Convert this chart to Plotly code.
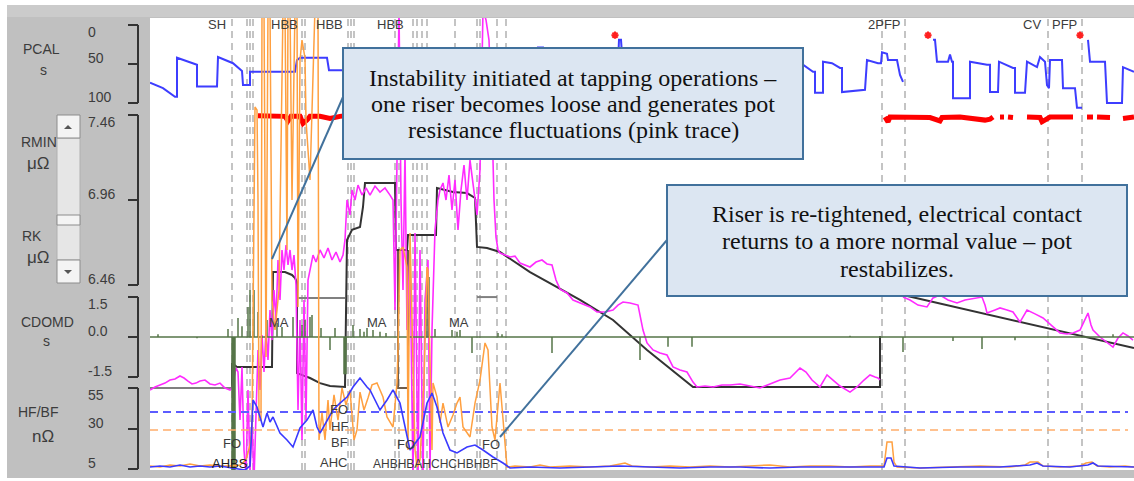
import plotly.graph_objects as go

W, H = 1134, 481

# ---------------- data (time axis t in minutes from window start) ----------------
# PCAL [s] (blue step trace, reversed axis)
pcal_t = [0, 13, 25, 27, 27, 45, 47, 47, 67, 68, 83, 92, 93, 100, 100, 145, 147, 150, 177, 179, 193,
          230, 232, 270, 272, 320, 330, 388, 388, 393, 394, 450, 452, 467, 469, 471, 472, 530, 532, 570, 572, 610, 640,
          653, 663, 665, 665, 673, 673, 682, 690, 692, 692, 715, 717, 728, 731, 732, 737, 738, 747, 750, 753,
          None,
          783, 785, 787, 798, 800, 802, 803, 803, 820, 820, 837, 840, 840, 848, 849, 863, 865, 865, 875, 877,
          887, 890, 895, 897, 899, 900, 912, 913, 925, 927, 932,
          None,
          938, 940, 955, 957, 972, 973, 984]
pcal_v = [74, 81, 92, 92, 42, 51, 51, 79, 79, 41, 49, 59, 77, 77, 60, 60, 45, 42, 42, 58, 58,
          58, 77, 77, 45, 47, 45, 45, 29, 29, 58, 58, 81, 81, 19, 19, 38, 38, 77, 77, 45, 45, 47,
          51, 60, 60, 87, 87, 47, 49, 55, 55, 86, 83, 45, 49, 49, 35, 37, 45, 45, 64, 73,
          None,
          19, 19, 47, 47, 38, 47, 47, 94, 94, 47, 51, 51, 86, 86, 47, 55, 55, 87, 87, 47,
          54, 41, 47, 77, 81, 45, 45, 81, 81, 106, 106,
          None,
          19, 47, 47, 100, 100, 54, 60]
pcal_alarm_t = [465, 778, 930]
pcal_alarm_v = [13, 13, 13]

# RMIN [uOhm] (red)
rmin_t = [108, 115, 125, 135, 138, 141, 150, 153, 157, 160, 170, 180, 190, 195, 300, 550, None,
          735, 737, 738, 740, 760, 780, 790, 792, 810, 830, 835, 840, 843, None,
          850, 854, None, 858, 863, None,
          877, 890, 892, 895, 900, 923, None,
          937, 943, None, 947, 960, None, 973, 984]
rmin_v = [7.455, 7.455, 7.455, 7.452, 7.425, 7.452, 7.452, 7.41, 7.43, 7.452, 7.452, 7.44, 7.452, 7.455, 7.455, 7.455, None,
          7.448, 7.42, 7.42, 7.448, 7.448, 7.445, 7.425, 7.445, 7.448, 7.432, 7.43, 7.435, 7.448, None,
          7.448, 7.448, None, 7.448, 7.445, None,
          7.448, 7.445, 7.42, 7.43, 7.448, 7.448, None,
          7.448, 7.448, None, 7.448, 7.445, None, 7.44, 7.448]

# RK measured pot resistance [uOhm] (pink)
rk_t = [0, 5, 10, 15, 20, 25, 30, 34, 38, 42, 46, 50, 55, 60, 65, 70, 75, 80, 82,
        84, 86, 88, 90, 92, 94, 96, 98, 100, 102, 104, 106, 108, 110, 112, 114, 116, 118, 120, 122,
        124, 126, 128, 130, 132, 134, 136, 138, 140, 142, 144, 146, 148, 150, 152, 154, 156, 158, 160,
        163, 166, 170, 174, 178, 182, 186, 190, 193, 195, 197, 200, 202, 205, 208, 212, 216, 220, 225,
        230, 235, 240, 243, 245, 247, 249, 251, 253, 255, 257, 260, 263, 265, 268, 270, 273, 275, 278,
        280, 282, 285, 288, 290, 293, 296, 299, 302, 305, 308, 311, 314, 317, 320, 324, 327, 330, 333,
        336, 339, 342, 344, 346, 348,
        350, 355, 360, 365, 370, 380, 386, 392, 397, 402, 406, 410, 417, 423, 430, 440, 447, 455, 463,
        468, 473, 480, 488, 493, 497, 503, 510, 517, 523, 530, 537, 543, 547, 555, 563, 572, 580, 590,
        600, 610, 620, 630, 640, 650, 656, 662, 670, 677, 683, 690, 700, 707, 714, 720, 725, 728, 730,
        None,
        753, 760, 768, 777, 783, 790, 798, 807, 815, 825, 832, 835, 837, 845, 850, 857, 863, 870, 877,
        885, 893, 902, 910, 917, 923, 930, 935, 938, 941, 943, 950, 956, 960, 963, 968, 973, 978, 983]
rk_v = [5.842, 5.86, 5.872, 5.883, 5.901, 5.907, 5.925, 5.913, 5.895, 5.878, 5.883, 5.895, 5.901, 5.878, 5.872, 5.883, 5.854, 5.842, 5.854,
        5.913, 5.972, 5.948, 5.666, 5.978, 5.489, 5.34, 5.842, 5.372, 5.666, 5.313, 5.783, 6.078, 5.842, 6.166, 5.948, 6.195, 6.019, 6.313, 6.136,
        6.431, 6.254, 6.607, 6.372, 6.666, 6.548, 6.695, 6.578, 6.666, 6.548, 6.636, 6.46, 5.725, 6.254, 5.548, 6.372, 5.666, 6.489, 6.548,
        6.636, 6.595, 6.666, 6.619, 6.678, 6.607, 6.654, 6.595, 6.636, 6.725, 6.96, 6.872, 7.019, 6.96, 7.048, 6.989, 7.031, 6.989, 7.042,
        7.007, 7.031, 6.989, 6.96, 6.313, 7.254, 8.078, 6.96, 6.431, 7.254, 6.195, 6.666, 5.313, 6.766, 5.313, 6.666, 5.313, 6.372, 6.607,
        5.372, 6.195, 6.784, 6.96, 7.019, 7.06, 6.96, 7.107, 6.901, 7.078, 6.784, 7.019, 7.166, 6.96, 7.195, 6.989, 6.872, 7.136, 8.078,
        8.019, 7.901, 7.431, 6.96, 6.742, 6.666,
        6.648, 6.636, 6.625, 6.63, 6.589, 6.566, 6.595, 6.607, 6.584, 6.578, 6.489, 6.436, 6.413, 6.372, 6.354, 6.331, 6.301, 6.301, 6.313,
        6.342, 6.36, 6.354, 6.342, 6.195, 6.119, 6.078, 6.06, 6.048, 5.978, 5.96, 5.948, 5.889, 5.86, 5.866, 5.86, 5.872, 5.872, 5.878,
        5.866, 5.854, 5.878, 5.901, 5.913, 5.972, 5.948, 5.901, 5.86, 5.931, 5.901, 5.866, 5.83, 5.86, 5.901, 5.931, 5.919, 5.913, 5.901,
        None,
        6.389, 6.372, 6.342, 6.331, 6.384, 6.401, 6.372, 6.354, 6.372, 6.384, 6.389, 6.342, 6.295, 6.313, 6.325, 6.313, 6.301, 6.242, 6.313,
        6.29, 6.266, 6.219, 6.178, 6.172, 6.178, 6.195, 6.254, 6.295, 6.225, 6.195, 6.154, 6.125, 6.107, 6.095, 6.148, 6.178, 6.16, 6.136]

# RK model / regulation line (black)
rkm_t = [82, 82, 87, 122, 123, 135, 142, 145, 147, 147, 160, 170, 180, 195, 197, 202, 210, 213, 215, 245,
         246, 257, 258, 286, 287, 303, 317, 325, 327, 337, 350, 380, 430, 463, 497, 543, 730, 730, None, 753, 984]
rkm_v = [5.854, 6.001, 5.978, 5.978, 6.536, 6.536, 6.519, 6.501, 6.478, 5.942, 5.913, 5.883, 5.866, 5.86, 6.725, 6.784, 6.801, 6.919, 7.06, 7.06,
         6.666, 6.666, 6.754, 6.754, 7.031, 7.007, 7.001, 6.972, 6.684, 6.678, 6.654, 6.536, 6.372, 6.254, 6.078, 5.86, 5.86, 6.16, None, 6.401, 6.089]
# RK target segments (grey)
rkt_t = [0, 82, None, 147, 195, None, 327, 347]
rkt_v = [5.854, 5.854, None, 6.384, 6.384, None, 6.389, 6.389]
# anode-effect style bracket (brown)
rkb_t = [248, 248, 258, 258]
rkb_v = [6.666, 5.854, 5.854, 6.666]

# CDOMD [s] impulses (green)
cd_t = [8, 47, 78, 82, 83, 84, 85, 88, 92, 98, 100, 104, 108, 117, 127, 132, 143, 152, 155, 160,
        162, 171, 180, 185, 194, 195, 196, 203, 210, 214, 217, 223, 230, 236, 277, 279, 285, 302, 307, 310,
        322, 348, 352, 402, 490, 518, 542, 700, 753, 803, 832, 865, 963]
cd_v = [0.1, -0.05, 0.3, -5.3, -5.3, -5.3, -5.3, 0.71, 0.4, 1.12, 1.76, 1.76, 0.94, 0.64, 0.52, 0.37, 0.75, 0.45, 0.64, 0.75,
        0.82, 0.34, -0.49, 0.34, -1.4, -1.4, -1.4, 0.45, 0.3, 0.2, 0.34, 0.26, 0.2, 0.15, 2.25, 2.25, 0.3, 0.26, 0.2, 0.26,
        -0.6, 0.15, 0.1, -0.6, -0.86, -0.37, -0.37, 0.05, -0.56, -0.15, -0.45, -0.12, 0.1]

# HF [nOhm] (orange) and BF [nOhm] (blue)
hf_t = [0, 10, 20, 30, 40, 50, 60, 70, 80, 90,
        96, 100, 102, 103, 105, 107, 108, 109, 111, 112,
        114, 116, 118, 120, 122, 125, 129, 133, 135, 137,
        138, 140, 142, 145, 147, 148, 150, 152, 155, 156,
        160, 165, 168, 169, 172, 175, 178, 180, 184, 188,
        192, 196, 200, 204, 207, 210, 214, 218, 222, 227,
        233, 237, 243, 247, 248, 250, 253, 257, 258, 260,
        263, 265, 267, 270, 274, 277, 278, 282, 283, 287,
        290, 293, 298, 303, 307, 310, 313, 320, 325, 330,
        335, 338, 342, 345, 350, 353, 357, 365, 380, 390,
        400, 420, 440, 460, 475, 482, 500, 520, 540, 560,
        580, 600, 620, 640, 660, 680, 700, 720, 734, 736,
        737, 742, 744, 747, 770, 800, 830, 860, 875, 880,
        888, 893, 910, 930, 936, 942, 947, 960, 975, 984]
hf_v = [6.85, 6.2, 7.5, 6.85, 8.1, 6.85, 7.5, 6.85, 6.85, 7.5,
        10.6, 19.8, 30.9, 109.3, 228.5, 226.6, 171, 35.0, 35.2, 290,
        290, 74.1, 290, 290, 109.3, 90.8, 115.5, 290, 290, 140.2,
        290, 290, 171, 290, 290, 105, 257.5, 269.8, 258.7, 220.4,
        183.4, 290, 290, 22.9, 39.6, 22.9, 47.6, 29.1, 50.7, 35.2,
        55, 44.5, 53.8, 22.9, 29.1, 52.5, 41.4, 48.8, 56.9, 58.1,
        49.4, 37.1, 30.9, 58.1, 78.5, 140.2, 142, 129.7, 16.7, 150.7,
        78.5, 16.7, 6.2, 10.6, 59.9, 129.7, 127.8, 16.7, 58.1, 49.4,
        33.4, 45.7, 30.9, 38.3, 45.7, 49.4, 30.9, 24.75, 45.7, 59.9,
        82.8, 78.5, 30.9, 22.9, 58.1, 37.1, 6.2, 6.85, 6.2, 7.5,
        6.2, 6.85, 6.2, 6.85, 8.7, 6.85, 6.2, 6.85, 6.2, 6.85,
        6.2, 6.85, 7.5, 6.2, 6.85, 6.85, 6.2, 6.85, 6.85, 16.7,
        21.7, 21.7, 9.3, 6.2, 5.6, 6.2, 6.85, 6.2, 7.5, 9.3,
        9.3, 6.85, 6.2, 6.85, 8.7, 9.3, 6.85, 6.2, 6.85, 6.2]
bf_t = [0, 10, 20, 30, 40, 50, 60, 70, 82, 95,
        100, 103, 107, 113, 117, 120, 123, 130, 137, 143,
        150, 157, 163, 167, 170, 177, 183, 190, 197, 203,
        210, 217, 220, 230, 237, 243, 250, 260, 270, 277,
        282, 287, 293, 300, 307, 317, 325, 333, 343, 353,
        360, 380, 410, 440, 470, 500, 530, 560, 590, 620,
        650, 680, 710, 734, 737, 741, 744, 770, 810, 850,
        880, 887, 893, 920, 938, 943, 948, 984]
bf_v = [6.2, 6.85, 6.2, 7.5, 6.2, 6.85, 6.2, 6.85, 5.6, 4.4,
        6.85, 47.6, 43.3, 30.9, 39.6, 34, 37.1, 27.2, 22.9, 18.6,
        30.3, 35.2, 41.4, 30.9, 27.2, 35.2, 41.4, 45.7, 49.4, 55.6,
        61.2, 55.6, 53.8, 41.4, 47.6, 53.8, 45.7, 16.7, 24.75, 45.7,
        51.9, 43.3, 27.2, 16.7, 14.9, 18.6, 19.8, 16.7, 12.4, 8.7,
        5.6, 6.2, 5.6, 6.2, 6.85, 6.2, 5.6, 6.2, 6.2, 5.6,
        6.2, 6.2, 6.2, 6.2, 11.8, 11.8, 6.85, 5.6, 6.2, 6.2,
        7.5, 8.7, 6.85, 6.2, 7.5, 8.7, 6.85, 6.2]
bf_limit = 40.2
hf_limit = 29.1
limit_t = [0, 978]

# events
event_t = [82, 97, 100, 103, 152, 155, 198, 201, 204, 245, 249, 263, 267, 272, 277,
           305, 327, 330, 347, 356, 732, 755, 898, 932]
event_label_t = [67, 134, 179, 240, 734, 882, 914]
event_labels = ["SH", "HBB", "HBB", "HBB", "2PFP", "CV", "PFP"]
ma_t = [129, 227, 309]

# axis ticks
pcal_ticks = [0, 50, 100]
rk_ticks = [7.46, 6.96, 6.46]
cd_ticks = [1.5, 0.0, -1.5]
hf_ticks = [55, 30, 5]

for a, b in [(pcal_t, pcal_v), (rmin_t, rmin_v), (rk_t, rk_v), (rkm_t, rkm_v), (cd_t, cd_v),
             (hf_t, hf_v), (bf_t, bf_v)]:
    assert len(a) == len(b), (len(a), len(b))

# ---------------- helpers for decoration positions ----------------
def X(p):
    return p / W

def Y(p):
    return 1 - p / H

SANS = "Liberation Sans, Arial, sans-serif"
SERIF = "Liberation Serif, Times New Roman, serif"

fig = go.Figure()

# dashed limit lines
fig.add_trace(go.Scatter(x=limit_t, y=[bf_limit, bf_limit], yaxis="y4", mode="lines",
                         line=dict(color="#5c5cff", width=2, dash="8px,5px")))
fig.add_trace(go.Scatter(x=limit_t, y=[hf_limit, hf_limit], yaxis="y4", mode="lines",
                         line=dict(color="#ffad6b", width=1.6, dash="8px,5px")))

# CDOMD impulses
cx, cy = [0], [0]
for t, v in zip(cd_t, cd_v):
    cx += [t, t, t]
    cy += [0, v, 0]
cx.append(984)
cy.append(0)
fig.add_trace(go.Scatter(x=cx, y=cy, yaxis="y3", mode="lines",
                         line=dict(color="#557548", width=1.5)))

# RK target, bracket, model
fig.add_trace(go.Scatter(x=rkt_t, y=rkt_v, yaxis="y2", mode="lines",
                         line=dict(color="#808080", width=2)))
fig.add_trace(go.Scatter(x=rkb_t, y=rkb_v, yaxis="y2", mode="lines",
                         line=dict(color="#6e5c4c", width=2)))
fig.add_trace(go.Scatter(x=rkm_t, y=rkm_v, yaxis="y2", mode="lines",
                         line=dict(color="#333333", width=2)))

# HF orange
fig.add_trace(go.Scatter(x=hf_t, y=hf_v, yaxis="y4", mode="lines",
                         line=dict(color="#ffa040", width=1.5)))
# RK pink
fig.add_trace(go.Scatter(x=rk_t, y=rk_v, yaxis="y2", mode="lines",
                         line=dict(color="#ff2bff", width=1.6)))
# BF blue
fig.add_trace(go.Scatter(x=bf_t, y=bf_v, yaxis="y4", mode="lines",
                         line=dict(color="#3a3aff", width=1.6)))
# PCAL blue
fig.add_trace(go.Scatter(x=pcal_t, y=pcal_v, yaxis="y", mode="lines",
                         line=dict(color="#3d3dff", width=2)))
fig.add_trace(go.Scatter(x=pcal_alarm_t, y=pcal_alarm_v, yaxis="y", mode="markers",
                         marker=dict(symbol="asterisk-open", size=6, color="#ff2020",
                                     line=dict(color="#ff2020", width=2))))
# RMIN red
fig.add_trace(go.Scatter(x=rmin_t, y=rmin_v, yaxis="y2", mode="lines",
                         line=dict(color="#ff0000", width=5)))

# ---------------- axes ----------------
xdom = [X(150), 1]
ydom = [Y(470), Y(18)]
common = dict(showgrid=False, zeroline=False, showline=False, ticks="outside", ticklen=10,
              tickwidth=2, tickcolor="#333333", showticklabels=False, fixedrange=True,
              anchor="free", position=X(138), side="left", automargin=False)
layout_axes = dict(
    xaxis=dict(domain=xdom, range=[0, 984], visible=False, fixedrange=True),
    yaxis=dict(domain=ydom, range=[570.5, -8.97], tickvals=pcal_ticks, **common),
    yaxis2=dict(overlaying="y", range=[5.3718, 8.0306], tickvals=rk_ticks, **common),
    yaxis3=dict(overlaying="y", range=[-4.987, 11.96], tickvals=cd_ticks, **common),
    yaxis4=dict(overlaying="y", range=[4.38, 283.4], tickvals=hf_ticks, **common),
)

shapes = []
# background panel and plot area (lower layer)
shapes.append(dict(type="rect", xref="paper", yref="paper", x0=X(7), x1=1, y0=Y(478), y1=Y(5),
                   fillcolor="#c0c0c0", line=dict(width=0), layer="below"))
shapes.append(dict(type="rect", xref="paper", yref="paper", x0=X(7), x1=1, y0=Y(17), y1=Y(5),
                   fillcolor="#cbcbcb", line=dict(width=0), layer="below"))
shapes.append(dict(type="rect", xref="paper", yref="paper", x0=X(150), x1=1, y0=Y(470), y1=Y(18),
                   fillcolor="#ffffff", line=dict(width=0), layer="below"))
# event lines
for t in event_t:
    shapes.append(dict(type="line", xref="x", yref="paper", x0=t, x1=t, y0=Y(470), y1=Y(18),
                       line=dict(color="#c4c4c4", width=2, dash="7px,5px"), layer="below"))
# axis brackets
for yref, ticks in [("y", pcal_ticks), ("y2", rk_ticks), ("y3", cd_ticks), ("y4", hf_ticks)]:
    shapes.append(dict(type="line", xref="paper", yref=yref, x0=X(138), x1=X(138),
                       y0=min(ticks), y1=max(ticks), line=dict(color="#333333", width=2)))
# scroll bar widget
def rect(x0, y0, x1, y1, fill, line="#8c8c8c"):
    return dict(type="rect", xref="paper", yref="paper", x0=X(x0), x1=X(x1), y0=Y(y1), y1=Y(y0),
                fillcolor=fill, line=dict(color=line, width=1))
shapes.append(rect(57, 138, 80, 260, "#e6e6e6", "#b0b0b0"))
shapes.append(rect(57, 215, 80, 225, "#f4f4f4"))
shapes.append(rect(57, 115, 80, 138, "#f4f4f4"))
shapes.append(rect(57, 260, 80, 283, "#f4f4f4"))
shapes.append(dict(type="path", xref="paper", yref="paper", fillcolor="#555555", line=dict(width=0),
                   path=f"M {X(64)},{Y(129)} L {X(72)},{Y(129)} L {X(68)},{Y(125)} Z"))
shapes.append(dict(type="path", xref="paper", yref="paper", fillcolor="#555555", line=dict(width=0),
                   path=f"M {X(64)},{Y(270)} L {X(72)},{Y(270)} L {X(68)},{Y(274)} Z"))
# callout boxes and pointers
BOX_LINE = "#41719c"
shapes.append(dict(type="line", xref="paper", yref="paper", x0=X(343), y0=Y(97), x1=X(272), y1=Y(259),
                   line=dict(color=BOX_LINE, width=2)))
shapes.append(dict(type="line", xref="paper", yref="paper", x0=X(667), y0=Y(240), x1=X(500), y1=Y(437),
                   line=dict(color=BOX_LINE, width=2)))
shapes.append(dict(type="rect", xref="paper", yref="paper", x0=X(343), x1=X(803), y0=Y(159), y1=Y(48),
                   fillcolor="#dce6f2", line=dict(color=BOX_LINE, width=2)))
shapes.append(dict(type="rect", xref="paper", yref="paper", x0=X(667), x1=X(1127), y0=Y(296), y1=Y(185),
                   fillcolor="#dce6f2", line=dict(color=BOX_LINE, width=2)))

ann = []
def txt(text, x, y, size=13, color="#3c3c3c", xref="paper", yref="paper", xanchor="center",
        yanchor="middle", family=SANS, yshift=0):
    ann.append(dict(text=text, x=x, y=y, xref=xref, yref=yref, xanchor=xanchor, yanchor=yanchor,
                    showarrow=False, yshift=yshift, font=dict(family=family, size=size, color=color)))

# tick labels (positioned on each axis scale)
for yref, ticks, labels in [("y", pcal_ticks, ["0", "50", "100"]),
                            ("y2", rk_ticks, ["7.46", "6.96", "6.46"]),
                            ("y3", cd_ticks, ["1.5", "0.0", "-1.5"]),
                            ("y4", hf_ticks, ["55", "30", "5"])]:
    top = max(ticks) if yref != "y" else min(ticks)
    for v, lab in zip(ticks, labels):
        if v == top:
            txt(lab, X(86), v, size=14, xanchor="left", yanchor="top", yref=yref, yshift=3)
        else:
            txt(lab, X(86), v, size=14, xanchor="left", yanchor="bottom", yref=yref, yshift=-4)

# panel titles
txt("PCAL", X(41), Y(49), size=14)
txt("s", X(43), Y(70), size=14)
txt("RMIN", X(39), Y(142), size=14)
txt("μΩ", X(38), Y(163), size=17)
txt("RK", X(32), Y(236), size=14)
txt("μΩ", X(38), Y(257), size=17)
txt("CDOMD", X(47), Y(322), size=14)
txt("s", X(46), Y(341), size=14)
txt("HF/BF", X(38), Y(412), size=14)
txt("nΩ", X(43), Y(436), size=17)

# event labels
for t, lab in zip(event_label_t, event_labels):
    txt(lab, t, Y(25), xref="x")
for t in ma_t:
    txt("MA", t, Y(322), xref="x")
txt("FO", 82, Y(443), xref="x")
txt("AHBS", 80, Y(463), xref="x", color="#202020")
txt("FO", 189, Y(409), xref="x")
txt("HF", 189, Y(426), xref="x")
txt("BF", 189, Y(442), xref="x")
txt("AHC", 183, Y(462), xref="x")
txt("FO", 256, Y(444), xref="x")
txt("AHBHBAHCHCHBHBF", 285, Y(464), xref="x", size=12)
txt("FO", 341, Y(444), xref="x")

# callout texts
for line, yc in [("Instability initiated at tapping operations –", 78),
                 ("one riser becomes loose and generates pot", 104),
                 ("resistance fluctuations (pink trace)", 130)]:
    txt(line, X(573), Y(yc), size=24, color="#111111", family=SERIF)
for line, yc in [("Riser is re-tightened, electrical contact", 214),
                 ("returns to a more normal value – pot", 241),
                 ("restabilizes.", 269)]:
    txt(line, X(897), Y(yc), size=24, color="#111111", family=SERIF)

fig.update_layout(
    width=W, height=H, margin=dict(l=0, r=0, t=0, b=0),
    paper_bgcolor="#ffffff", plot_bgcolor="rgba(0,0,0,0)",
    showlegend=False, shapes=shapes, annotations=ann, template="none",
    **layout_axes,
)

fig.write_html("out.html", config=dict(displayModeBar=False),
               post_script="document.body.style.margin='0';document.body.style.overflow='hidden';")
